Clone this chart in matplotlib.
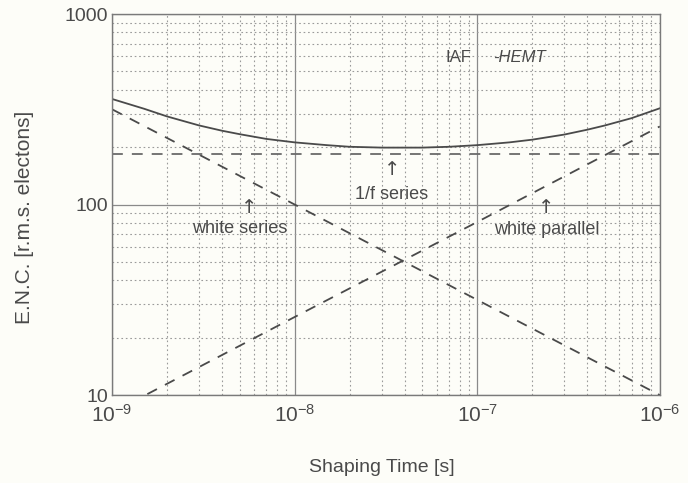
import matplotlib
matplotlib.use("Agg")
import matplotlib.pyplot as plt
from matplotlib.ticker import LogLocator, NullFormatter

plt.rcParams['font.family'] = ['Liberation Sans', 'DejaVu Sans']
plt.rcParams['mathtext.fontset'] = 'custom'
plt.rcParams['mathtext.rm'] = 'Liberation Sans'
plt.rcParams['mathtext.it'] = 'Liberation Sans:italic'
plt.rcParams['mathtext.default'] = 'regular'

# Shaping times (s) at which values were read
tau = [1e-9, 1.5e-9, 2e-9, 3e-9, 4e-9, 5e-9, 7e-9, 1e-8, 1.5e-8, 2e-8, 3e-8, 5e-8,
       7e-8, 1e-7, 1.5e-7, 2e-7, 3e-7, 4e-7, 5e-7, 7e-7, 1e-6]
total = [358, 318, 290, 260, 244, 234, 221, 212, 205, 201, 199, 199,
         201, 205, 212, 219, 233, 247, 260, 284, 320]

ws_tau = [1e-9, 1e-8, 1e-7, 1e-6]
white_series = [316, 100, 31.6, 10]

wp_tau = [1e-9, 1e-8, 1e-7, 1e-6]
white_parallel = [8.1, 25.7, 81, 257]

f_tau = [1e-9, 1e-6]
one_f = [185, 185]

xticks = [1e-9, 1e-8, 1e-7, 1e-6]
xticklabels = [r'$10^{-9}$', r'$10^{-8}$', r'$10^{-7}$', r'$10^{-6}$']
yticks = [10, 100, 1000]
yticklabels = ['10', '100', '1000']

ink = '#4a4a4a'
fig = plt.figure(figsize=(6.88, 4.83), dpi=100, facecolor='#fdfdf8')
ax = fig.add_axes([0.163, 0.182, 0.796, 0.789])
ax.set_facecolor('#fdfdf8')
ax.set_xscale('log')
ax.set_yscale('log')
ax.set_xlim(1e-9, 1e-6)
ax.set_ylim(10, 1000)

ax.grid(True, which='major', color='#8a8a8a', linestyle='-', linewidth=0.9)
ax.grid(True, which='minor', color='#9a9a9a', linestyle=(0, (1.5, 2.5)), linewidth=0.8)
ax.xaxis.set_minor_locator(LogLocator(base=10, subs=range(2, 10)))
ax.yaxis.set_minor_locator(LogLocator(base=10, subs=range(2, 10)))
ax.xaxis.set_minor_formatter(NullFormatter())
ax.yaxis.set_minor_formatter(NullFormatter())
ax.set_xticks(xticks)
ax.set_xticklabels(xticklabels, fontsize=15, color=ink)
ax.set_yticks(yticks)
ax.set_yticklabels(yticklabels, fontsize=14, color=ink)
ax.tick_params(which='both', length=0)
ax.tick_params(axis='x', pad=6)
ax.tick_params(axis='y', pad=3)
for s in ax.spines.values():
    s.set_color('#7a7a7a')
    s.set_linewidth(1.0)

ax.plot(tau, total, color=ink, linewidth=1.3)
ax.plot(ws_tau, white_series, color=ink, linewidth=1.3, linestyle=(0, (6, 5)))
ax.plot(wp_tau, white_parallel, color=ink, linewidth=1.3, linestyle=(0, (6, 5)))
ax.plot(f_tau, one_f, color='#6a6a6a', linewidth=1.3, linestyle=(0, (6, 5)))

tk = dict(color=ink, fontsize=13, ha='center', va='center')
ak = dict(color=ink, fontsize=14, ha='center', va='center', family='DejaVu Sans')
ax.text(3.4e-8, 152, '↑', **ak)
ax.text(3.4e-8, 113, '1/f series', **tk)
ax.text(5.6e-9, 97, '↑', **ak)
ax.text(5.0e-9, 75, 'white series', **tk)
ax.text(2.4e-7, 97, '↑', **ak)
ax.text(2.4e-7, 74, 'white parallel', **tk)
ax.text(7.9e-8, 590, 'IAF', color=ink, fontsize=12, ha='center', va='center')
ax.text(1.7e-7, 590, '-HEMT', color=ink, fontsize=12, ha='center', va='center', style='italic')

fig.text(0.555, 0.033, 'Shaping Time [s]', color=ink, fontsize=14, ha='center', va='center')
fig.text(0.036, 0.55, 'E.N.C. [r.m.s. electons]', color=ink, fontsize=15, ha='center', va='center', rotation=90)

fig.savefig('out.png', dpi=100, facecolor=fig.get_facecolor())
